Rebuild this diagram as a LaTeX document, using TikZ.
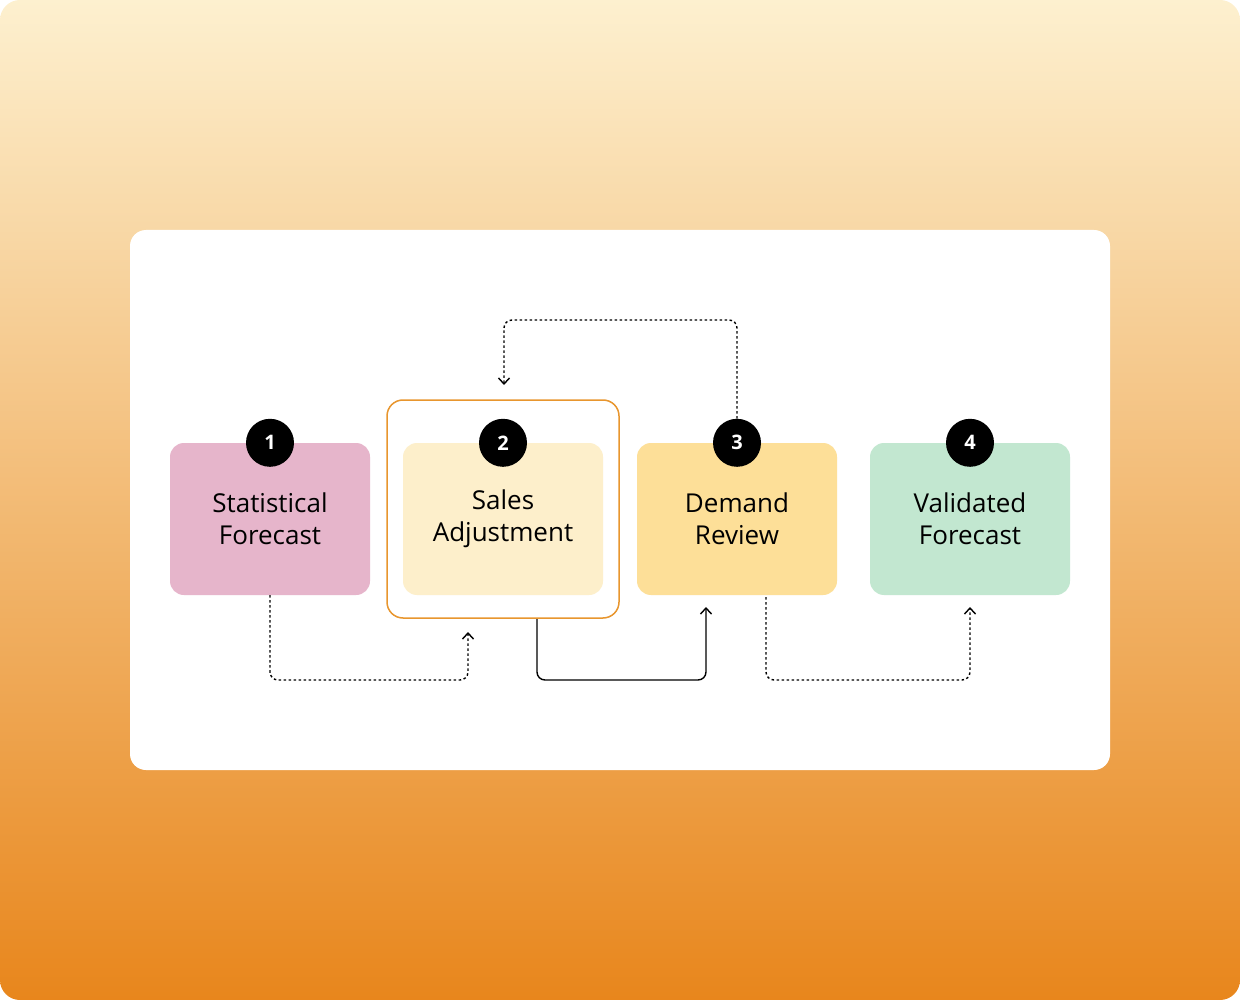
\documentclass[tikz,border=0pt]{standalone}
\usepackage{fontspec}
\setmainfont{Open Sans}
\usetikzlibrary{arrows.meta,positioning}
\definecolor{bgtop}{HTML}{FDF0CF}
\definecolor{bgbot}{HTML}{E8861C}
\definecolor{stat}{HTML}{E6B5CB}
\definecolor{sales}{HTML}{FDEFCB}
\definecolor{frame}{HTML}{E8962E}
\definecolor{demand}{HTML}{FDDF98}
\definecolor{valid}{HTML}{C2E7D0}
\tikzset{
  stage/.style={minimum width=200pt,minimum height=152pt,rounded corners=14pt,
    align=center,font=\fontsize{26}{32}\selectfont},
  badge/.style={circle,fill=black,text=white,minimum size=48pt,inner sep=0pt,
    font=\fontsize{20}{20}\selectfont\bfseries},
  link/.style={line width=1.4pt,rounded corners=8pt,-{Straight Barb[length=6pt,width=11pt]}},
  dots/.style={link,dash pattern=on 2.5pt off 2.5pt}
}
\begin{document}
\begin{tikzpicture}[x=1pt,y=-1pt]
\useasboundingbox (0,0) rectangle (1240,1000);
\shade[top color=bgtop,bottom color=bgbot,rounded corners=20pt] (0,0) rectangle (1240,1000);
\fill[white,rounded corners=16pt] (130,230) rectangle (1110,770);
% frame round stage 2
\draw[frame,line width=1.5pt,rounded corners=16pt] (387,400) rectangle (619,618);
% stages
\node[stage,fill=stat] (stat) at (270,519) {Statistical\\Forecast};
\node[stage,fill=sales] (sales) at (503,519) {Sales\\Adjustment};
\node[stage,fill=demand] (demand) at (737,519) {Demand\\Review};
\node[stage,fill=valid] (valid) at (970,519) {Validated\\Forecast};
\foreach \n/\m in {stat/1,sales/2,demand/3,valid/4}
  \node[badge] (b\m) at (\n.north) {\m};
% links
\coordinate (salesin) at (468,632);
\coordinate (salesout) at (537,619);
\coordinate (demin) at (706,607);
\coordinate (demout) at (766,597);
\coordinate (valin) at (970,607);
\coordinate (back) at (504,385);
\draw[dots] (stat.south) |- (468,680) -- (salesin);
\draw[link] (salesout) |- (706,680) -- (demin);
\draw[dots] (demout) |- (970,680) -- (valin);
\draw[dots] (b3.north) |- (504,320) -- (back);
\end{tikzpicture}
\end{document}
